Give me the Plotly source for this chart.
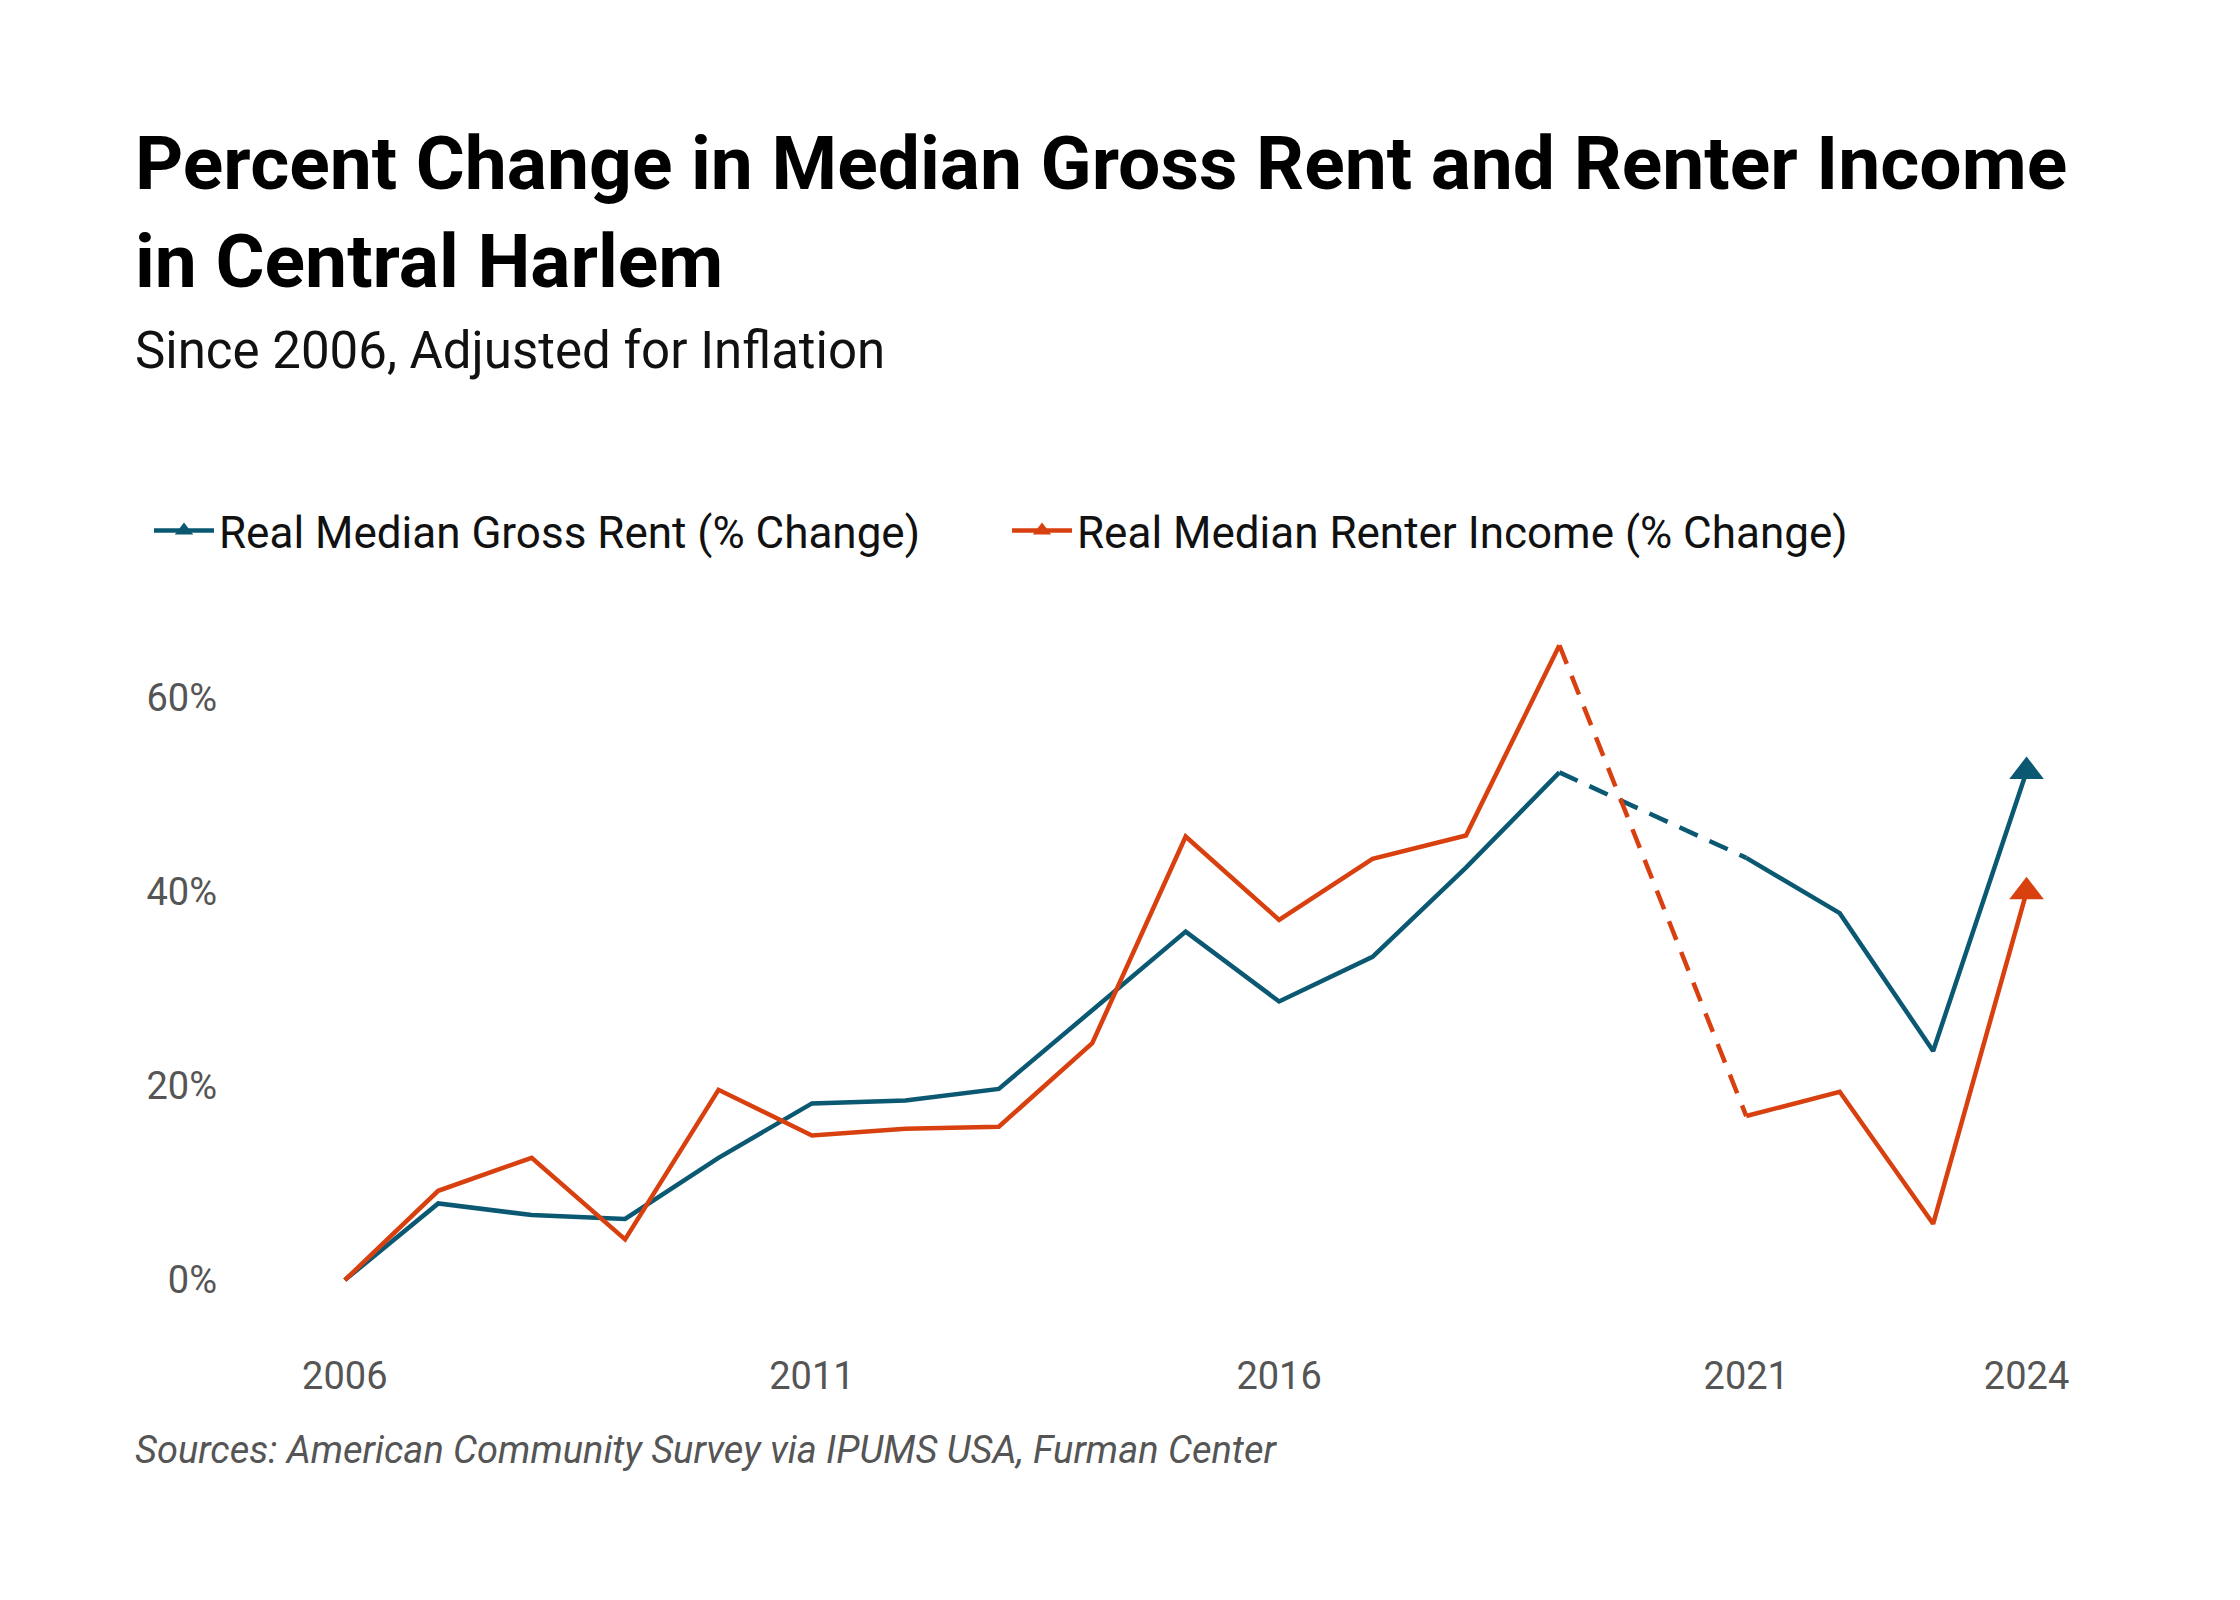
import plotly.graph_objects as go

# values (no data for 2020)
years = [2006, 2007, 2008, 2009, 2010, 2011, 2012, 2013, 2014, 2015,
         2016, 2017, 2018, 2019, 2020, 2021, 2022, 2023, 2024]
rent_change = [0.0, 7.9, 6.7, 6.3, 12.6, 18.2, 18.5, 19.7, 27.8, 35.9,
               28.7, 33.3, 42.5, 52.3, None, 43.5, 37.8, 23.6, 52.4]
income_change = [0.0, 9.2, 12.6, 4.2, 19.6, 14.9, 15.6, 15.8, 24.4, 45.7,
                 37.1, 43.4, 45.8, 65.4, None, 16.9, 19.4, 5.8, 40.0]

x_ticks = [2006, 2011, 2016, 2021, 2024]
y_ticks = [0, 20, 40, 60]
y_tick_text = ["0%", "20%", "40%", "60%"]

BLUE = "#0a5872"
ORANGE = "#d8410f"
FONT = "Roboto"

series = [
    ("Real Median Gross Rent (% Change)", rent_change, BLUE),
    ("Real Median Renter Income (% Change)", income_change, ORANGE),
]

fig = go.Figure()

gap = years.index(2020)
for name, vals, color in series:
    sizes = [0] * (len(years) - 1) + [30]
    fig.add_trace(go.Scatter(
        x=years, y=vals, mode="lines+markers", connectgaps=False,
        line=dict(color=color, width=4.5),
        marker=dict(symbol="triangle-up", size=sizes, color=color,
                    opacity=1, line=dict(width=0)),
        showlegend=False, hoverinfo="skip",
    ))
    # dashed bridge across the missing year
    fig.add_trace(go.Scatter(
        x=[years[gap - 1], years[gap + 1]], y=[vals[gap - 1], vals[gap + 1]],
        mode="lines", line=dict(color=color, width=4.5, dash="20px,13px"),
        showlegend=False, hoverinfo="skip",
    ))
    # legend entry
    fig.add_trace(go.Scatter(
        x=[None], y=[None], mode="lines+markers", name=name,
        line=dict(color=color, width=4.5),
        marker=dict(symbol="triangle-up", size=16, color=color, opacity=1,
                    line=dict(width=0)),
    ))

L, R, T, B = 220, 128, 612, 258
W, H = 2240, 1600
pw, ph = W - L - R, H - T - B

def px_x(px):
    return (px - L) / pw

def px_y(py):
    return (H - B - py) / ph

fig.update_layout(
    width=W, height=H,
    margin=dict(l=L, r=R, t=T, b=B),
    paper_bgcolor="white", plot_bgcolor="white",
    font=dict(family=FONT, color="#111111"),
    title=dict(
        text="<b>Percent Change in Median Gross Rent and Renter Income<br>in Central Harlem</b>",
        font=dict(size=75, color="#000000", family=FONT),
        xref="container", x=127 / W, xanchor="left",
        yref="container", y=1 - 181 / H, yanchor="top",
    ),
    legend=dict(
        orientation="h", x=px_x(141), xanchor="left", y=px_y(523), yanchor="middle",
        font=dict(size=44, color="#111111", family=FONT),
        itemwidth=60, entrywidth=783, entrywidthmode="pixels",
        bgcolor="rgba(0,0,0,0)",
    ),
    xaxis=dict(
        range=[2004.75, 2025.0], tickvals=x_ticks, showgrid=False, zeroline=False,
        showline=False, ticks="", tickfont=dict(size=38, color="#555555", family=FONT),
    ),
    yaxis=dict(
        range=[-7.2, 68], tickvals=y_ticks, ticktext=y_tick_text, showgrid=False,
        zeroline=False, showline=False, ticks="", ticklabelstandoff=10,
        tickfont=dict(size=38, color="#555555", family=FONT),
    ),
    annotations=[
        dict(text="Since 2006, Adjusted for Inflation", xref="paper", yref="paper",
             x=px_x(125), y=px_y(343), xanchor="left", yanchor="middle",
             showarrow=False, font=dict(size=51, color="#111111", family=FONT)),
        dict(text="<i>Sources: American Community Survey via IPUMS USA, Furman Center</i>",
             xref="paper", yref="paper", x=px_x(125), y=px_y(1442),
             xanchor="left", yanchor="middle", showarrow=False,
             font=dict(size=38, color="#555555", family=FONT)),
    ],
)

fig.write_html("out.html")
